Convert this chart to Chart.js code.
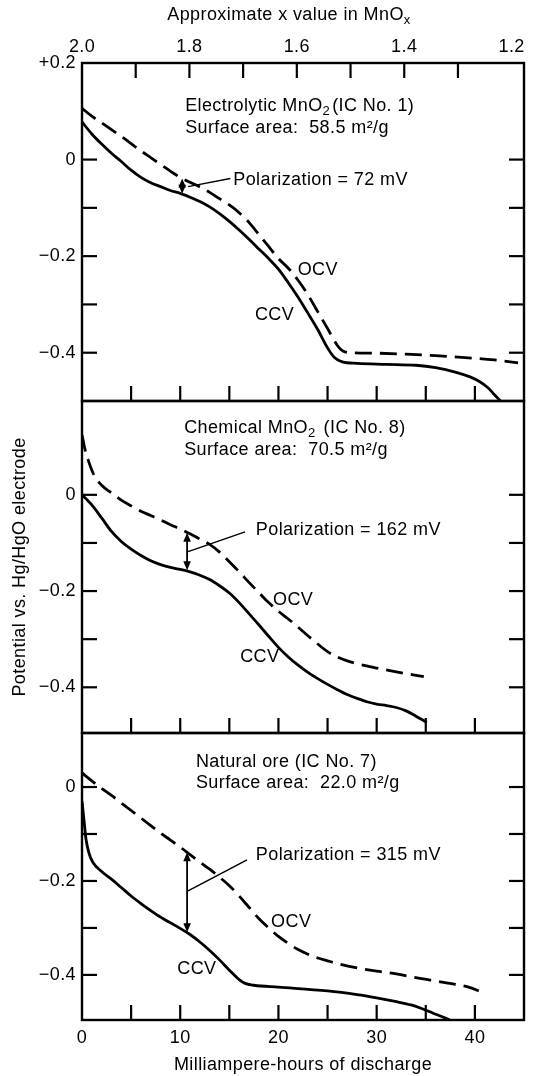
<!DOCTYPE html>
<html>
<head>
<meta charset="utf-8">
<script src="https://cdn.jsdelivr.net/npm/chart.js@4/dist/chart.umd.min.js"></script>
<style>
  html, body { margin: 0; padding: 0; background: #ffffff; }
  #wrap { width: 536px; height: 1076px; position: relative; }
  canvas { display: block; }
</style>
</head>
<body>
<div id="wrap"><canvas id="c" width="536" height="1076"></canvas></div>
<script>
// ---------- axis values ----------
const mahTickLabels = [0, 10, 20, 30, 40];
const mahTickMarks = [5, 10, 15, 20, 25, 30, 35, 40];
const mnoxTickLabels = [2.0, 1.8, 1.6, 1.4, 1.2];
const mnoxTickMarks = [1.9, 1.8, 1.7, 1.6, 1.5, 1.4, 1.3];
const potentialTickLabelsTop = [0.2, 0, -0.2, -0.4];
const potentialTickLabels = [0, -0.2, -0.4];
const potentialTickMarks = [0, -0.1, -0.2, -0.3, -0.4];

// ---------- Panel 1: Electrolytic MnO2 (IC No. 1) ----------
const elOcvMah = [0, 1, 2, 3, 4, 5, 6, 7, 8, 9, 10, 11, 12, 13, 14, 15, 16, 17, 18, 19, 20, 21, 22, 23, 24, 25, 26, 26.6, 27.5, 30, 33, 36, 39, 42, 44.4];
const elOcvV   = [0.106, 0.09, 0.076, 0.062, 0.048, 0.033, 0.018, 0.004, -0.01, -0.024, -0.037, -0.047, -0.057, -0.068, -0.081, -0.094, -0.11, -0.13, -0.155, -0.18, -0.205, -0.225, -0.25, -0.28, -0.315, -0.35, -0.385, -0.397, -0.4, -0.401, -0.403, -0.406, -0.41, -0.415, -0.421];
const elCcvMah = [0, 1, 2, 3, 4, 5, 6, 7, 8, 9, 10, 11, 12, 13, 14, 15, 16, 17, 18, 19, 20, 21, 22, 23, 24, 25, 25.7, 26.5, 28, 31, 34, 36, 38, 39.5, 40.5, 41.3, 42, 42.6];
const elCcvV   = [0.078, 0.053, 0.032, 0.013, -0.004, -0.022, -0.037, -0.048, -0.056, -0.064, -0.07, -0.078, -0.087, -0.098, -0.112, -0.128, -0.146, -0.165, -0.185, -0.205, -0.227, -0.255, -0.285, -0.318, -0.352, -0.39, -0.41, -0.419, -0.422, -0.424, -0.426, -0.431, -0.44, -0.45, -0.46, -0.472, -0.487, -0.5];

// ---------- Panel 2: Chemical MnO2 (IC No. 8) ----------
const chOcvMah = [0, 0.3, 0.7, 1.2, 2, 3, 4, 5, 6, 7, 8, 9, 10, 11, 12, 13, 14, 15, 16, 17, 18, 19, 20, 21, 22, 23, 24, 25, 26, 27, 28, 30, 32, 34.8];
const chOcvV   = [0.125, 0.095, 0.068, 0.042, 0.02, 0.004, -0.011, -0.023, -0.034, -0.043, -0.052, -0.062, -0.071, -0.081, -0.092, -0.103, -0.119, -0.139, -0.16, -0.182, -0.203, -0.224, -0.242, -0.258, -0.275, -0.293, -0.31, -0.326, -0.337, -0.345, -0.351, -0.36, -0.368, -0.378];
const chCcvMah = [0, 0.5, 1, 2, 3, 4, 5, 6, 7, 8, 9, 10, 11, 12, 13, 14, 15, 16, 17, 18, 19, 20, 21, 22, 23, 24, 25, 26, 27, 28, 29, 30, 31, 32, 33, 34, 35.1];
const chCcvV   = [0.0, -0.01, -0.021, -0.048, -0.076, -0.097, -0.113, -0.126, -0.137, -0.145, -0.151, -0.155, -0.16, -0.167, -0.176, -0.189, -0.204, -0.224, -0.247, -0.27, -0.294, -0.317, -0.337, -0.354, -0.369, -0.382, -0.394, -0.405, -0.415, -0.423, -0.43, -0.435, -0.438, -0.442, -0.449, -0.46, -0.473];

// ---------- Panel 3: Natural ore (IC No. 7) ----------
const noOcvMah = [0, 1, 2, 3, 4, 5, 6, 7, 8, 9, 10, 11, 12, 13, 14, 15, 16, 17, 18, 19, 20, 21, 22, 23, 24, 25, 26, 28, 30, 32, 34, 36, 38, 39.5, 40.4];
const noOcvV   = [0.03, 0.013, -0.003, -0.018, -0.034, -0.05, -0.066, -0.082, -0.098, -0.113, -0.128, -0.144, -0.16, -0.175, -0.192, -0.21, -0.232, -0.256, -0.28, -0.3, -0.318, -0.333, -0.346, -0.356, -0.364, -0.37, -0.376, -0.385, -0.392, -0.398, -0.406, -0.413, -0.42, -0.427, -0.434];
const noCcvMah = [0, 0.2, 0.4, 0.7, 1.1, 2, 3, 4, 5, 6, 7, 8, 9, 10, 11, 12, 13, 14, 15, 16, 16.6, 17.5, 20, 25, 28, 30, 32, 33.5, 34.5, 35.7, 37, 37.8];
const noCcvV   = [-0.03, -0.07, -0.11, -0.14, -0.16, -0.18, -0.196, -0.214, -0.232, -0.248, -0.263, -0.277, -0.289, -0.301, -0.314, -0.33, -0.348, -0.368, -0.39, -0.41, -0.418, -0.422, -0.426, -0.434, -0.442, -0.449, -0.457, -0.464, -0.471, -0.481, -0.492, -0.5];

// ---------- texts ----------
const topAxisTitle = 'Approximate x value in MnO';
const topAxisTitleSub = 'x';
const bottomAxisTitle = 'Milliampere-hours of discharge';
const yAxisTitle = 'Potential vs. Hg/HgO electrode';

const panelNotes = [
  { axis: 'yA', name: [{t: 'Electrolytic MnO'}, {t: '2', sub: true}, {t: '(IC No. 1)', pre: 2}], area: 'Surface area:  58.5 m²/g',
    pol: 'Polarization = 72 mV' },
  { axis: 'yB', name: [{t: 'Chemical MnO'}, {t: '2', sub: true}, {t: '(IC No. 8)', pre: 8}], area: 'Surface area:  70.5 m²/g',
    pol: 'Polarization = 162 mV' },
  { axis: 'yC', name: [{t: 'Natural ore (IC No. 7)'}], area: 'Surface area:  22.0 m²/g',
    pol: 'Polarization = 315 mV' }
];
// annotation anchors in data units [mAh, V]
const notePlacement = [
  { name: [10.5, 0.111], area: [10.5, 0.066], polText: [15.4, -0.043], leader: [[15.1, -0.039], [10.8, -0.056]], arrow: [10.2, -0.039, -0.071], ocv: [24.0, -0.229], ccv: [19.6, -0.322] },
  { name: [10.4, 0.139], area: [10.4, 0.093], polText: [17.7, -0.073], leader: [[16.6, -0.077], [10.8, -0.118]], arrow: [10.7, -0.079, -0.157], ocv: [21.5, -0.218], ccv: [18.1, -0.338] },
  { name: [11.6, 0.053], area: [11.6, 0.009], polText: [17.7, -0.145], leader: [[16.8, -0.155], [10.8, -0.221]], arrow: [10.7, -0.139, -0.309], ocv: [21.3, -0.287], ccv: [11.7, -0.387] }
];

const FONT_FAMILY = '"Liberation Sans", Arial, Helvetica, sans-serif';
const INK = '#000000';
const TEXT_SIZE = 18;
const TICK_LEN = 15;

function pts(xs, ys) { return xs.map((x, i) => ({x: x, y: ys[i]})); }

function tickLabel(v) {
  if (Math.abs(v) < 1e-9) return '0';
  return (v > 0 ? '+' : '\u2212') + Math.abs(v).toFixed(1);
}

function yScale(min, max, weight, ticks) {
  return {
    type: 'linear', position: 'left', stack: 'panels', stackWeight: weight,
    min: min, max: max,
    afterBuildTicks: s => { s.ticks = ticks.map(v => ({value: v})); },
    afterFit: s => { s.width = 82; },
    grid: { display: false, drawTicks: false },
    border: { display: false },
    ticks: { color: INK, padding: 6, font: { family: FONT_FAMILY, size: TEXT_SIZE }, callback: v => tickLabel(v) }
  };
}

function drawRich(ctx, parts, x, y, size) {
  let cx = x;
  parts.forEach(p => {
    cx += p.pre || 0;
    const s = p.sub ? Math.round(size * 0.7) : size;
    ctx.font = s + 'px ' + FONT_FAMILY;
    ctx.fillText(p.t, cx, y + (p.sub ? size * 0.32 : 0));
    cx += ctx.measureText(p.t).width;
  });
  return cx - x;
}

function arrowHead(ctx, x, y, dir) {
  ctx.beginPath();
  ctx.moveTo(x, y);
  ctx.lineTo(x - 3.8, y - dir * 9);
  ctx.lineTo(x + 3.8, y - dir * 9);
  ctx.closePath();
  ctx.fill();
}

const decor = {
  id: 'decor',
  beforeDraw(chart) {
    chart.ctx.letterSpacing = '0.4px';
  },
  afterDatasetsDraw(chart) {
    const ctx = chart.ctx;
    const a = chart.chartArea;
    const xs = chart.scales.x;
    const x2 = chart.scales.x2;
    ctx.save();
    ctx.letterSpacing = '0.4px';
    ctx.strokeStyle = INK;
    ctx.fillStyle = INK;
    ctx.lineCap = 'butt';
    const seg = (x1, y1, x2_, y2, w) => { ctx.lineWidth = w; ctx.beginPath(); ctx.moveTo(x1, y1); ctx.lineTo(x2_, y2); ctx.stroke(); };

    ['yA', 'yB', 'yC'].forEach(id => {
      const ys = chart.scales[id];
      ctx.lineWidth = 2.4;
      ctx.strokeRect(a.left, ys.top, a.right - a.left, ys.bottom - ys.top);
      potentialTickMarks.forEach(v => {
        const py = ys.getPixelForValue(v);
        seg(a.left, py, a.left + TICK_LEN, py, 2.2);
        seg(a.right - TICK_LEN, py, a.right, py, 2.2);
      });
      mahTickMarks.forEach(v => {
        const px = xs.getPixelForValue(v);
        seg(px, ys.bottom, px, ys.bottom - TICK_LEN, 2.2);
      });
    });
    mnoxTickMarks.forEach(v => {
      const px = x2.getPixelForValue(v);
      seg(px, a.top, px, a.top + TICK_LEN, 2.2);
    });

    // annotations
    ctx.textBaseline = 'middle';
    panelNotes.forEach((n, i) => {
      const ys = chart.scales[n.axis];
      const p = notePlacement[i];
      const X = v => xs.getPixelForValue(v);
      const Y = v => ys.getPixelForValue(v);
      ctx.textAlign = 'left';
      drawRich(ctx, n.name, X(p.name[0]), Y(p.name[1]), TEXT_SIZE);
      ctx.font = TEXT_SIZE + 'px ' + FONT_FAMILY;
      ctx.fillText(n.area, X(p.area[0]), Y(p.area[1]));
      ctx.fillText(n.pol, X(p.polText[0]), Y(p.polText[1]));
      seg(X(p.leader[0][0]), Y(p.leader[0][1]), X(p.leader[1][0]), Y(p.leader[1][1]), 1.5);
      const ax = X(p.arrow[0]), ay1 = Y(p.arrow[1]), ay2 = Y(p.arrow[2]);
      seg(ax, ay1 + 6, ax, ay2 - 6, 1.8);
      arrowHead(ctx, ax, ay1, -1);
      arrowHead(ctx, ax, ay2, 1);
      ctx.textAlign = 'center';
      ctx.font = TEXT_SIZE + 'px ' + FONT_FAMILY;
      ctx.fillText('OCV', X(p.ocv[0]), Y(p.ocv[1]));
      ctx.fillText('CCV', X(p.ccv[0]), Y(p.ccv[1]));
    });

    // top axis title with subscript
    ctx.textAlign = 'left';
    ctx.font = TEXT_SIZE + 'px ' + FONT_FAMILY;
    const mainW = ctx.measureText(topAxisTitle).width;
    ctx.font = Math.round(TEXT_SIZE * 0.7) + 'px ' + FONT_FAMILY;
    const subW = ctx.measureText(topAxisTitleSub).width;
    const tx = (a.left + a.right) / 2 - 14 - (mainW + subW) / 2;
    drawRich(ctx, [{t: topAxisTitle}, {t: topAxisTitleSub, sub: true}], tx, 15, TEXT_SIZE);

    // y axis title (rotated), centred on middle panel
    const yb = chart.scales.yB;
    ctx.save();
    ctx.translate(20, (yb.top + yb.bottom) / 2);
    ctx.rotate(-Math.PI / 2);
    ctx.textAlign = 'center';
    ctx.font = TEXT_SIZE + 'px ' + FONT_FAMILY;
    ctx.fillText(yAxisTitle, 0, 0);
    ctx.restore();

    ctx.restore();
  }
};

const lineStyle = (dashed) => ({
  borderColor: INK, borderWidth: 2.8, borderDash: dashed ? [17, 8] : [],
  pointRadius: 0, fill: false, cubicInterpolationMode: 'monotone', xAxisID: 'x'
});

new Chart(document.getElementById('c'), {
  type: 'line',
  data: {
    datasets: [
      Object.assign({ label: 'Electrolytic OCV', data: pts(elOcvMah, elOcvV), yAxisID: 'yA' }, lineStyle(true)),
      Object.assign({ label: 'Electrolytic CCV', data: pts(elCcvMah, elCcvV), yAxisID: 'yA' }, lineStyle(false)),
      Object.assign({ label: 'Chemical OCV', data: pts(chOcvMah, chOcvV), yAxisID: 'yB' }, lineStyle(true)),
      Object.assign({ label: 'Chemical CCV', data: pts(chCcvMah, chCcvV), yAxisID: 'yB' }, lineStyle(false)),
      Object.assign({ label: 'Natural ore OCV', data: pts(noOcvMah, noOcvV), yAxisID: 'yC' }, lineStyle(true)),
      Object.assign({ label: 'Natural ore CCV', data: pts(noCcvMah, noCcvV), yAxisID: 'yC' }, lineStyle(false))
    ]
  },
  options: {
    responsive: false,
    animation: false,
    devicePixelRatio: 1,
    layout: { padding: { left: 0, right: 12, top: 0, bottom: 0 } },
    plugins: { legend: { display: false }, tooltip: { enabled: false } },
    scales: {
      x: {
        type: 'linear', position: 'bottom', min: 0, max: 45,
        afterBuildTicks: s => { s.ticks = mahTickLabels.map(v => ({value: v})); },
        afterFit: s => { s.height = 56; },
        grid: { display: false, drawTicks: false },
        border: { display: false },
        ticks: { color: INK, padding: 7, maxRotation: 0, autoSkip: false, font: { family: FONT_FAMILY, size: TEXT_SIZE } },
        title: { display: true, text: bottomAxisTitle, color: INK, font: { family: FONT_FAMILY, size: TEXT_SIZE }, padding: { top: 0, bottom: 0 } }
      },
      x2: {
        type: 'linear', position: 'top', reverse: true, min: 1.177, max: 2.0,
        afterBuildTicks: s => { s.ticks = mnoxTickLabels.map(v => ({value: v})); },
        afterFit: s => { s.height = 63; },
        grid: { display: false, drawTicks: false },
        border: { display: false },
        ticks: { color: INK, padding: 5, maxRotation: 0, autoSkip: false, font: { family: FONT_FAMILY, size: TEXT_SIZE }, callback: v => Number(v).toFixed(1) }
      },
      yC: yScale(-0.496, 0.115, 287, potentialTickLabels),
      yB: yScale(-0.495, 0.195, 332, potentialTickLabels),
      yA: yScale(-0.5, 0.2, 338, potentialTickLabelsTop)
    }
  },
  plugins: [decor]
});
</script>
</body>
</html>
